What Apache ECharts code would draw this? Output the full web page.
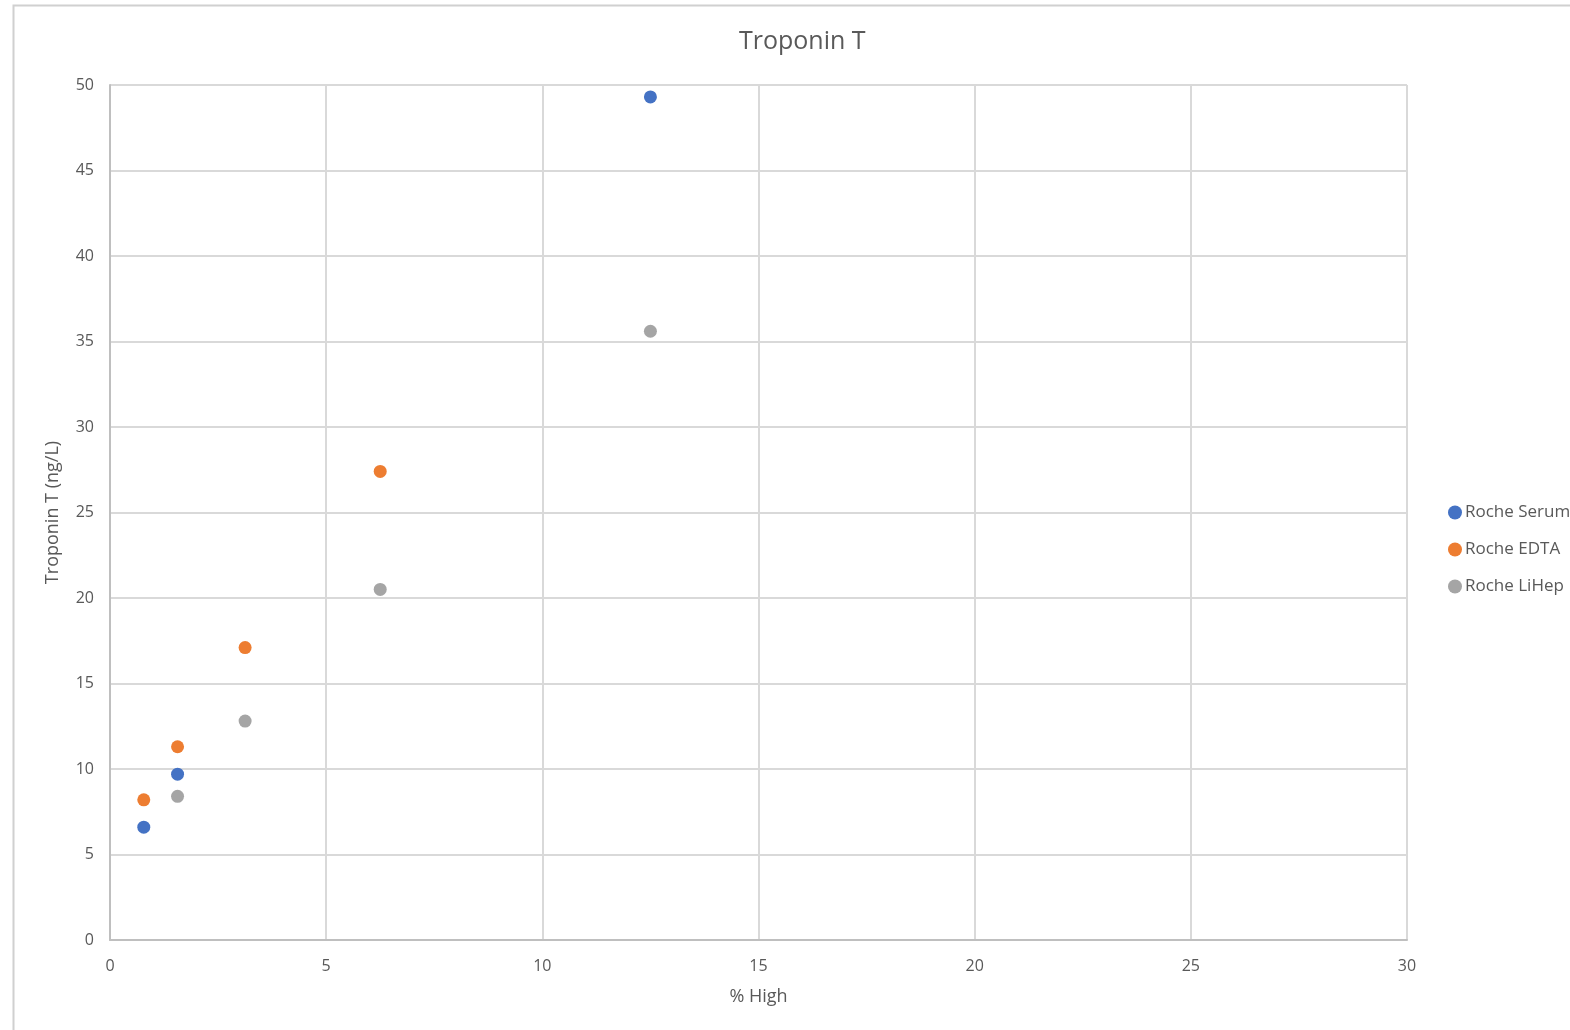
<!DOCTYPE html>
<html><head><meta charset="utf-8">
<script src="https://cdn.jsdelivr.net/npm/echarts@6/dist/echarts.min.js"></script>
<style>html,body{margin:0;padding:0;background:#fff}#c{width:1570px;height:1030px}</style>
</head><body><div id="c"></div>
<script>
const serumX = [0.78125, 1.5625, 12.5];
const serumY = [6.6, 9.7, 49.3];
const edtaX = [0.78125, 1.5625, 3.125, 6.25];
const edtaY = [8.2, 11.3, 17.1, 27.4];
const lihepX = [1.5625, 3.125, 6.25, 12.5];
const lihepY = [8.4, 12.8, 20.5, 35.6];
const seriesNames = ['Roche Serum', 'Roche EDTA', 'Roche LiHep'];
const colors = ['#4472C4', '#ED7D31', '#A5A5A5'];

const pair = (xs, ys) => xs.map((x, i) => [x, ys[i]]);
const chart = echarts.init(document.getElementById('c'), null, {renderer: 'canvas'});
chart.setOption({
  animation: false,
  textStyle: {fontFamily: '"Open Sans", sans-serif'},
  graphic: [{type: 'rect', shape: {x: 13.5, y: 5.5, width: 1600, height: 1100}, style: {fill: 'none', stroke: '#d0d0d0', lineWidth: 2}, silent: true}],
  title: {text: 'Troponin T', left: 734, top: 24, itemGap: 0,
    textStyle: {fontSize: 25, fontWeight: 'normal', color: '#595959', fontFamily: '"Open Sans", sans-serif'}},
  grid: {left: 110, right: 163, top: 85, bottom: 90},
  legend: {orient: 'vertical', left: 1443, top: 499, itemGap: 20, itemWidth: 14, itemHeight: 14, icon: 'circle',
    textStyle: {fontSize: 17, color: '#595959', padding: [0, 0, 0, -2]},
    data: seriesNames},
  xAxis: {type: 'value', min: 0, max: 30, interval: 5, name: '% High', nameLocation: 'middle', nameGap: 48,
    nameTextStyle: {fontSize: 18, color: '#595959'},
    axisLine: {show: true, onZero: false, lineStyle: {color: '#bfbfbf', width: 2}}, axisTick: {show: false},
    axisLabel: {fontSize: 16, color: '#595959', margin: 18},
    splitLine: {show: true, lineStyle: {color: '#d9d9d9', width: 2}}},
  yAxis: {type: 'value', min: 0, max: 50, interval: 5, name: 'Troponin T (ng/L)', nameLocation: 'middle', nameGap: 48,
    nameTextStyle: {fontSize: 18, color: '#595959'},
    axisLine: {show: true, lineStyle: {color: '#bfbfbf', width: 2}}, axisTick: {show: false},
    axisLabel: {fontSize: 16, color: '#595959', margin: 16},
    splitLine: {show: true, lineStyle: {color: '#d9d9d9', width: 2}}},
  series: [
    {name: seriesNames[0], type: 'scatter', data: pair(serumX, serumY), symbolSize: 13, itemStyle: {color: colors[0], opacity: 1}},
    {name: seriesNames[1], type: 'scatter', data: pair(edtaX, edtaY), symbolSize: 13, itemStyle: {color: colors[1], opacity: 1}},
    {name: seriesNames[2], type: 'scatter', data: pair(lihepX, lihepY), symbolSize: 13, itemStyle: {color: colors[2], opacity: 1}}
  ]
});
</script></body></html>
